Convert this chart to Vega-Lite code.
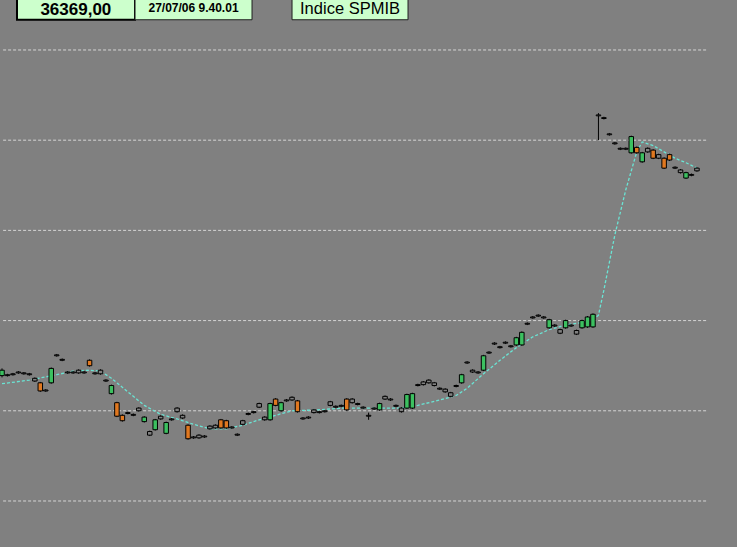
{
  "$schema": "https://vega.github.io/schema/vega-lite/v6.json",
  "width": 737,
  "height": 547,
  "padding": 0,
  "autosize": {"type": "none"},
  "background": "#808080",
  "config": {"view": {"stroke": null}},
  "datasets": {
    "candles": [
      {"i":0,"o":36139,"c":36145,"h":36147,"l":36137},
      {"i":1,"o":36140,"c":36139,"h":36141,"l":36138},
      {"i":2,"o":36141,"c":36140,"h":36142,"l":36139},
      {"i":3,"o":36143,"c":36142,"h":36144,"l":36141},
      {"i":4,"o":36142,"c":36141,"h":36143,"l":36140},
      {"i":5,"o":36141,"c":36140,"h":36142,"l":36139},
      {"i":6,"o":36136,"c":36133,"h":36137,"l":36132},
      {"i":7,"o":36131,"c":36122,"h":36132,"l":36121},
      {"i":8,"o":36123,"c":36122,"h":36124,"l":36121},
      {"i":9,"o":36131,"c":36147,"h":36148,"l":36130},
      {"i":10,"o":36162,"c":36161,"h":36163,"l":36160},
      {"i":11,"o":36157,"c":36156,"h":36158,"l":36155},
      {"i":12,"o":36143,"c":36142,"h":36144,"l":36141},
      {"i":13,"o":36143,"c":36142,"h":36144,"l":36141},
      {"i":14,"o":36142,"c":36145,"h":36146,"l":36141},
      {"i":15,"o":36143,"c":36142,"h":36144,"l":36141},
      {"i":16,"o":36156,"c":36150,"h":36157,"l":36149},
      {"i":17,"o":36142,"c":36141,"h":36143,"l":36140},
      {"i":18,"o":36141,"c":36145,"h":36146,"l":36140},
      {"i":19,"o":36134,"c":36133,"h":36135,"l":36132},
      {"i":20,"o":36119,"c":36128,"h":36129,"l":36118},
      {"i":21,"o":36109,"c":36094,"h":36110,"l":36093},
      {"i":22,"o":36095,"c":36089,"h":36096,"l":36088},
      {"i":23,"o":36098,"c":36097,"h":36099,"l":36096},
      {"i":24,"o":36096,"c":36095,"h":36097,"l":36094},
      {"i":25,"o":36103,"c":36100,"h":36104,"l":36099},
      {"i":26,"o":36088,"c":36093,"h":36094,"l":36087},
      {"i":27,"o":36077,"c":36073,"h":36078,"l":36072},
      {"i":28,"o":36079,"c":36090,"h":36091,"l":36078},
      {"i":29,"o":36091,"c":36094,"h":36095,"l":36090},
      {"i":30,"o":36075,"c":36087,"h":36088,"l":36074},
      {"i":31,"o":36091,"c":36090,"h":36092,"l":36089},
      {"i":32,"o":36103,"c":36099,"h":36104,"l":36098},
      {"i":33,"o":36095,"c":36092,"h":36096,"l":36091},
      {"i":34,"o":36084,"c":36069,"h":36085,"l":36068},
      {"i":35,"o":36071,"c":36070,"h":36072,"l":36069},
      {"i":36,"o":36073,"c":36070,"h":36074,"l":36069},
      {"i":37,"o":36072,"c":36071,"h":36073,"l":36070},
      {"i":38,"o":36080,"c":36083,"h":36084,"l":36079},
      {"i":39,"o":36081,"c":36084,"h":36085,"l":36080},
      {"i":40,"o":36090,"c":36081,"h":36091,"l":36080},
      {"i":41,"o":36089,"c":36081,"h":36090,"l":36080},
      {"i":42,"o":36082,"c":36081,"h":36083,"l":36080},
      {"i":43,"o":36074,"c":36073,"h":36075,"l":36072},
      {"i":44,"o":36085,"c":36089,"h":36090,"l":36084},
      {"i":45,"o":36097,"c":36096,"h":36098,"l":36095},
      {"i":46,"o":36099,"c":36098,"h":36100,"l":36097},
      {"i":47,"o":36104,"c":36108,"h":36109,"l":36103},
      {"i":48,"o":36093,"c":36090,"h":36094,"l":36089},
      {"i":49,"o":36090,"c":36108,"h":36109,"l":36089},
      {"i":50,"o":36113,"c":36106,"h":36114,"l":36105},
      {"i":51,"o":36100,"c":36109,"h":36110,"l":36099},
      {"i":52,"o":36112,"c":36111,"h":36113,"l":36110},
      {"i":53,"o":36112,"c":36115,"h":36116,"l":36111},
      {"i":54,"o":36111,"c":36099,"h":36112,"l":36098},
      {"i":55,"o":36092,"c":36091,"h":36093,"l":36090},
      {"i":56,"o":36093,"c":36092,"h":36094,"l":36091},
      {"i":57,"o":36098,"c":36101,"h":36102,"l":36097},
      {"i":58,"o":36099,"c":36098,"h":36100,"l":36097},
      {"i":59,"o":36100,"c":36099,"h":36101,"l":36098},
      {"i":60,"o":36106,"c":36110,"h":36111,"l":36105},
      {"i":61,"o":36105,"c":36104,"h":36106,"l":36103},
      {"i":62,"o":36106,"c":36105,"h":36107,"l":36104},
      {"i":63,"o":36113,"c":36101,"h":36114,"l":36100},
      {"i":64,"o":36109,"c":36113,"h":36114,"l":36108},
      {"i":65,"o":36108,"c":36107,"h":36109,"l":36106},
      {"i":66,"o":36104,"c":36103,"h":36105,"l":36102},
      {"i":67,"o":36095,"c":36094,"h":36098,"l":36090},
      {"i":68,"o":36103,"c":36102,"h":36104,"l":36101},
      {"i":69,"o":36101,"c":36108,"h":36109,"l":36100},
      {"i":70,"o":36113,"c":36116,"h":36117,"l":36112},
      {"i":71,"o":36113,"c":36112,"h":36114,"l":36111},
      {"i":72,"o":36106,"c":36105,"h":36107,"l":36104},
      {"i":73,"o":36103,"c":36099,"h":36104,"l":36098},
      {"i":74,"o":36103,"c":36118,"h":36119,"l":36102},
      {"i":75,"o":36103,"c":36119,"h":36120,"l":36102},
      {"i":76,"o":36129,"c":36128,"h":36130,"l":36127},
      {"i":77,"o":36129,"c":36132,"h":36133,"l":36128},
      {"i":78,"o":36131,"c":36134,"h":36135,"l":36130},
      {"i":79,"o":36131,"c":36128,"h":36132,"l":36127},
      {"i":80,"o":36125,"c":36124,"h":36126,"l":36123},
      {"i":81,"o":36124,"c":36121,"h":36125,"l":36120},
      {"i":82,"o":36120,"c":36116,"h":36121,"l":36115},
      {"i":83,"o":36128,"c":36127,"h":36129,"l":36126},
      {"i":84,"o":36131,"c":36140,"h":36141,"l":36130},
      {"i":85,"o":36154,"c":36153,"h":36155,"l":36152},
      {"i":86,"o":36143,"c":36145,"h":36146,"l":36142},
      {"i":87,"o":36143,"c":36142,"h":36144,"l":36141},
      {"i":88,"o":36145,"c":36161,"h":36162,"l":36144},
      {"i":89,"o":36165,"c":36164,"h":36166,"l":36163},
      {"i":90,"o":36175,"c":36174,"h":36176,"l":36173},
      {"i":91,"o":36171,"c":36170,"h":36172,"l":36169},
      {"i":92,"o":36176,"c":36175,"h":36177,"l":36174},
      {"i":93,"o":36172,"c":36171,"h":36173,"l":36170},
      {"i":94,"o":36173,"c":36181,"h":36182,"l":36172},
      {"i":95,"o":36173,"c":36187,"h":36188,"l":36172},
      {"i":96,"o":36197,"c":36196,"h":36198,"l":36195},
      {"i":97,"o":36204,"c":36203,"h":36205,"l":36202},
      {"i":98,"o":36206,"c":36205,"h":36207,"l":36204},
      {"i":99,"o":36204,"c":36203,"h":36205,"l":36202},
      {"i":100,"o":36192,"c":36201,"h":36202,"l":36191},
      {"i":101,"o":36195,"c":36194,"h":36196,"l":36193},
      {"i":102,"o":36190,"c":36186,"h":36191,"l":36185},
      {"i":103,"o":36192,"c":36200,"h":36201,"l":36191},
      {"i":104,"o":36195,"c":36194,"h":36196,"l":36193},
      {"i":105,"o":36189,"c":36185,"h":36190,"l":36184},
      {"i":106,"o":36192,"c":36200,"h":36201,"l":36191},
      {"i":107,"o":36193,"c":36204,"h":36205,"l":36192},
      {"i":108,"o":36193,"c":36207,"h":36208,"l":36192},
      {"i":109,"o":36428,"c":36427,"h":36430,"l":36400},
      {"i":110,"o":36425,"c":36424,"h":36426,"l":36423},
      {"i":111,"o":36407,"c":36406,"h":36408,"l":36405},
      {"i":112,"o":36397,"c":36396,"h":36398,"l":36395},
      {"i":113,"o":36391,"c":36390,"h":36392,"l":36389},
      {"i":114,"o":36391,"c":36390,"h":36392,"l":36389},
      {"i":115,"o":36386,"c":36404,"h":36405,"l":36385},
      {"i":116,"o":36392,"c":36386,"h":36393,"l":36385},
      {"i":117,"o":36376,"c":36386,"h":36387,"l":36375},
      {"i":118,"o":36391,"c":36387,"h":36392,"l":36386},
      {"i":119,"o":36389,"c":36380,"h":36390,"l":36379},
      {"i":120,"o":36380,"c":36384,"h":36385,"l":36379},
      {"i":121,"o":36380,"c":36369,"h":36381,"l":36368},
      {"i":122,"o":36384,"c":36378,"h":36385,"l":36377},
      {"i":123,"o":36370,"c":36369,"h":36371,"l":36368},
      {"i":124,"o":36367,"c":36364,"h":36368,"l":36363},
      {"i":125,"o":36358,"c":36364,"h":36365,"l":36357},
      {"i":126,"o":36362,"c":36361,"h":36363,"l":36360},
      {"i":127,"o":36366,"c":36369,"h":36370,"l":36365}
    ],
    "ma": [
      {"i":0,"v":36130},{"i":5,"v":36134},{"i":10,"v":36140},{"i":13,"v":36144},
      {"i":16,"v":36145},{"i":18,"v":36144},{"i":20,"v":36136},{"i":23,"v":36121},
      {"i":26,"v":36106},{"i":29,"v":36096},{"i":32,"v":36091},{"i":35,"v":36085},
      {"i":38,"v":36080},{"i":41,"v":36080},{"i":44,"v":36084},{"i":47,"v":36090},
      {"i":50,"v":36095},{"i":53,"v":36100},{"i":57.5,"v":36101},{"i":62.5,"v":36103},
      {"i":68,"v":36103},{"i":73,"v":36103},{"i":76,"v":36106},{"i":80,"v":36112},
      {"i":83,"v":36117},{"i":85,"v":36125},{"i":88,"v":36141},{"i":91,"v":36156},
      {"i":94,"v":36170},{"i":97,"v":36182},{"i":100,"v":36190},{"i":103,"v":36195},
      {"i":106,"v":36198},{"i":108,"v":36201},{"i":109,"v":36206},{"i":110,"v":36234},
      {"i":112,"v":36295},{"i":114,"v":36345},{"i":116,"v":36387},{"i":117,"v":36398},
      {"i":119,"v":36394},{"i":121,"v":36387},{"i":123,"v":36380},{"i":125,"v":36375},
      {"i":127,"v":36369}
    ],
    "grid": [
      {"level":36000},{"level":36100},{"level":36200},{"level":36300},{"level":36400},{"level":36500}
    ]
  },
  "layer": [
    {
      "data": {"name": "grid"},
      "mark": {"type": "rule", "color": "#d4d4d4", "strokeWidth": 1, "strokeDash": [3, 2]},
      "encoding": {
        "x": {"datum": 0.2, "type": "quantitative", "scale": {"domain": [-0.3655, 134.32], "nice": false, "zero": false, "padding": 0}, "axis": null},
        "x2": {"datum": 128.8},
        "y": {"field": "level", "type": "quantitative", "scale": {"domain": [35949, 36555.4], "nice": false, "zero": false, "padding": 0}, "axis": null}
      }
    },
    {
      "data": {"name": "ma"},
      "mark": {"type": "line", "color": "#6ae4d4", "strokeWidth": 1.3, "strokeDash": [3, 2]},
      "encoding": {
        "x": {"field": "i", "type": "quantitative"},
        "y": {"field": "v", "type": "quantitative"}
      }
    },
    {
      "data": {"name": "candles"},
      "mark": {"type": "rule", "color": "#000000", "strokeWidth": 1},
      "encoding": {
        "x": {"field": "i", "type": "quantitative"},
        "y": {"field": "l", "type": "quantitative"},
        "y2": {"field": "h"}
      }
    },
    {
      "data": {"name": "candles"},
      "mark": {"type": "bar", "size": 4.5, "stroke": "#000000", "strokeWidth": 1},
      "encoding": {
        "x": {"field": "i", "type": "quantitative"},
        "y": {"field": "o", "type": "quantitative"},
        "y2": {"field": "c"},
        "fill": {
          "condition": [
            {"test": "datum.c - datum.o > 4.5", "value": "#3cc060"},
            {"test": "datum.o - datum.c > 4.5", "value": "#e07820"}
          ],
          "value": "#808080"
        }
      }
    },
    {
      "data": {"values": [{"label": "36369,00"}]},
      "layer": [
        {
          "mark": {"type": "rect", "fill": "#ccffcc", "stroke": "#000000", "strokeWidth": 2},
          "encoding": {
            "x": {"datum": 2.74, "type": "quantitative"},
            "x2": {"datum": 24.31},
            "y": {"datum": 36560, "type": "quantitative"},
            "y2": {"datum": 36533.5}
          }
        },
        {
          "mark": {"type": "text", "font": "Liberation Sans", "fontWeight": "bold", "fontSize": 17, "baseline": "middle", "align": "center", "color": "#000000"},
          "encoding": {
            "x": {"datum": 13.5, "type": "quantitative"},
            "y": {"datum": 36544.3, "type": "quantitative"},
            "text": {"field": "label"}
          }
        }
      ]
    },
    {
      "data": {"values": [{"label": "27/07/06 9.40.01"}]},
      "layer": [
        {
          "mark": {"type": "rect", "fill": "#ccffcc", "stroke": "#202020", "strokeWidth": 1},
          "encoding": {
            "x": {"datum": 24.31, "type": "quantitative"},
            "x2": {"datum": 45.69},
            "y": {"datum": 36560, "type": "quantitative"},
            "y2": {"datum": 36533.5}
          }
        },
        {
          "mark": {"type": "text", "font": "Liberation Sans", "fontWeight": "bold", "fontSize": 12, "baseline": "middle", "align": "center", "color": "#000000"},
          "encoding": {
            "x": {"datum": 35.0, "type": "quantitative"},
            "y": {"datum": 36547, "type": "quantitative"},
            "text": {"field": "label"}
          }
        }
      ]
    },
    {
      "data": {"values": [{"label": "Indice SPMIB"}]},
      "layer": [
        {
          "mark": {"type": "rect", "fill": "#ccffcc", "stroke": "#202020", "strokeWidth": 1},
          "encoding": {
            "x": {"datum": 53.0, "type": "quantitative"},
            "x2": {"datum": 74.2},
            "y": {"datum": 36560, "type": "quantitative"},
            "y2": {"datum": 36533.5}
          }
        },
        {
          "mark": {"type": "text", "font": "Liberation Sans", "fontSize": 16.5, "baseline": "middle", "align": "center", "color": "#000000"},
          "encoding": {
            "x": {"datum": 63.6, "type": "quantitative"},
            "y": {"datum": 36545, "type": "quantitative"},
            "text": {"field": "label"}
          }
        }
      ]
    }
  ]
}
